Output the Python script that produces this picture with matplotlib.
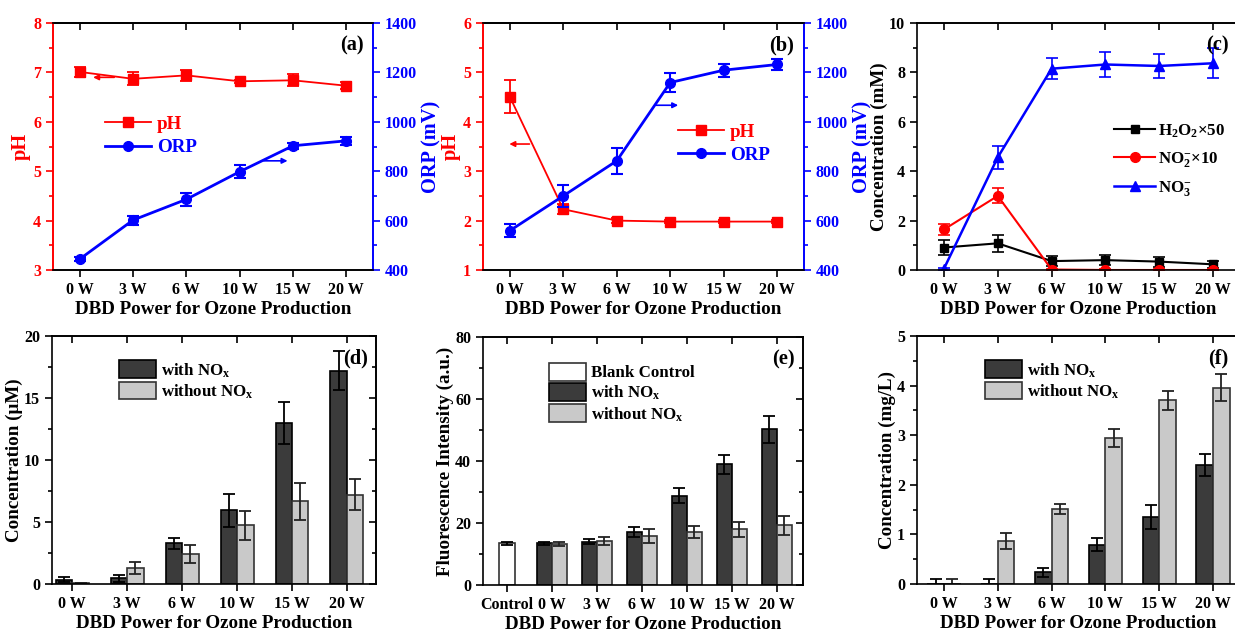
import numpy as np
import matplotlib
matplotlib.use('Agg')
import matplotlib.pyplot as plt
from matplotlib.patches import Patch
from matplotlib.lines import Line2D

plt.rcParams['font.family'] = ['Liberation Serif', 'DejaVu Serif']
plt.rcParams['font.weight'] = 'bold'
plt.rcParams['axes.labelweight'] = 'bold'
plt.rcParams['mathtext.fontset'] = 'custom'
plt.rcParams['mathtext.rm'] = 'Liberation Serif:bold'
plt.rcParams['mathtext.bf'] = 'Liberation Serif:bold'
plt.rcParams['mathtext.it'] = 'Liberation Serif:bold:italic'
plt.rcParams['mathtext.default'] = 'rm'
plt.rcParams['axes.linewidth'] = 1.2

# ---- data ----
powers = ['0 W', '3 W', '6 W', '10 W', '15 W', '20 W']

# (a)
ph_a = [7.01, 6.87, 6.94, 6.82, 6.84, 6.73]
ph_a_err = [0.10, 0.13, 0.11, 0.03, 0.12, 0.07]
orp_a = [444, 602, 686, 798, 903, 923]
orp_a_err = [8, 18, 27, 27, 13, 15]

# (b)
ph_b = [4.51, 2.23, 2.00, 1.98, 1.98, 1.98]
ph_b_err = [0.34, 0.10, 0.05, 0.03, 0.03, 0.03]
orp_b = [559, 700, 842, 1159, 1209, 1232]
orp_b_err = [26, 45, 52, 40, 27, 24]

# (c)
h2o2 = [0.91, 1.08, 0.36, 0.40, 0.34, 0.23]
h2o2_err = [0.30, 0.34, 0.20, 0.20, 0.20, 0.13]
no2 = [1.64, 3.00, 0.02, 0.0, 0.0, 0.0]
no2_err = [0.22, 0.30, 0.03, 0.03, 0.03, 0.03]
no3 = [0.05, 4.56, 8.15, 8.32, 8.26, 8.37]
no3_err = [0.05, 0.47, 0.43, 0.49, 0.50, 0.60]

# (d)
d_with = [0.35, 0.45, 3.30, 5.93, 12.97, 17.20]
d_with_err = [0.20, 0.30, 0.45, 1.33, 1.70, 1.58]
d_without = [0.08, 1.29, 2.42, 4.72, 6.66, 7.19]
d_without_err = [0.0, 0.50, 0.70, 1.17, 1.50, 1.25]

# (e)
e_control = 13.4
e_control_err = 0.4
e_with = [13.5, 14.0, 17.1, 28.8, 38.9, 50.2]
e_with_err = [0.5, 0.9, 1.7, 2.5, 3.1, 4.3]
e_without = [13.2, 14.3, 15.9, 17.2, 18.0, 19.2]
e_without_err = [0.6, 1.3, 2.2, 1.9, 2.4, 3.0]

# (f)
f_with = [0.0, 0.0, 0.24, 0.79, 1.35, 2.40]
f_with_err = [0.10, 0.10, 0.09, 0.13, 0.25, 0.22]
f_without = [0.0, 0.87, 1.51, 2.95, 3.70, 3.96]
f_without_err = [0.10, 0.16, 0.10, 0.18, 0.19, 0.27]

W, H = 1235, 632
fig = plt.figure(figsize=(W / 100, H / 100), dpi=100)


def pos(l, r, t, b):
    return [l / W, 1 - b / H, (r - l) / W, (b - t) / H]


TICK = 11.5
LAB = 13.7
DARK = '#3b3b3b'
LIGHT = '#c9c9c9'


def style(ax, xt, xl):
    ax.set_xticks(range(len(xl)))
    ax.set_xticklabels(xl, fontsize=TICK, fontweight='bold')
    ax.tick_params(axis='both', direction='out', length=5, width=1.2, labelsize=TICK)
    ax.tick_params(axis='y', which='minor', direction='out', length=3, width=1.2)
    ax.minorticks_on()
    ax.tick_params(axis='x', which='minor', bottom=False, top=False)
    for lab in ax.get_yticklabels():
        lab.set_fontweight('bold')
    top = ax.secondary_xaxis('top')
    top.set_xticks(range(len(xl)))
    top.set_xticklabels([])
    top.tick_params(direction='in', length=5, width=1.2)
    ax.set_xlabel('DBD Power for Ozone Production', fontsize=LAB, labelpad=2)


def mirror_right(ax, ticks, minor):
    r = ax.secondary_yaxis('right')
    r.set_yticks(ticks)
    r.set_yticklabels([])
    r.set_yticks(minor, minor=True)
    r.tick_params(direction='in', length=5, width=1.2)
    r.tick_params(which='minor', direction='in', length=3, width=1.2)


x = np.arange(6)

# ---------- (a) and (b) ----------
for key, rect, ph, phe, orp, orpe, ylim, arrows, leg_xy in [
    ('a', pos(53, 373, 23, 270), ph_a, ph_a_err, orp_a, orp_a_err, (3, 8),
     [((0.7, 6.9), (0.2, 6.9)), ((3.4, 842), (3.95, 842))], (0.14, 0.655)),
    ('b', pos(483, 804, 23, 270), ph_b, ph_b_err, orp_b, orp_b_err, (1, 6),
     [((0.42, 3.55), (-0.06, 3.55)), ((2.68, 1067), (3.2, 1067))], (0.585, 0.625)),
]:
    ax = fig.add_axes(rect)
    ax2 = ax.twinx()
    ax.errorbar(x, ph, yerr=phe, color='red', marker='s', ms=7, lw=1.3,
                capsize=4, elinewidth=1.3, capthick=1.3)
    ax2.errorbar(x, orp, yerr=orpe, color='blue', marker='o', ms=7, lw=2,
                 capsize=4, elinewidth=1.5, capthick=1.5)
    ax.set_xlim(-0.5, 5.5)
    ax.set_ylim(*ylim)
    ax2.set_ylim(400, 1400)
    style(ax, x, powers)
    ax.set_yticks(np.arange(ylim[0], ylim[1] + 1, 1))
    ax.set_yticks(np.arange(ylim[0], ylim[1], 0.5), minor=True)
    ax2.set_yticks(np.arange(400, 1401, 200))
    ax2.set_yticks(np.arange(400, 1400, 100), minor=True)
    ax2.tick_params(axis='y', direction='out', length=5, width=1.2, labelsize=TICK,
                    colors='blue')
    ax2.tick_params(axis='y', which='minor', direction='out', length=3, width=1.2,
                    colors='blue')
    for lab in ax2.get_yticklabels():
        lab.set_fontweight('bold')
    ax.tick_params(axis='y', which='both', colors='red')
    ax.spines['left'].set_color('red')
    ax2.spines['left'].set_color('red')
    ax2.spines['right'].set_color('blue')
    ax.spines['right'].set_color('blue')
    ax.set_ylabel('pH', fontsize=LAB + 1, color='red', labelpad=2)
    ax2.set_ylabel('ORP (mV)', fontsize=LAB + 1, color='blue', labelpad=3)
    (s1, e1), (s2, e2) = arrows
    ax.annotate('', xy=e1, xytext=s1,
                arrowprops=dict(arrowstyle='-|>', color='red', lw=1.2, mutation_scale=8))
    ax2.annotate('', xy=e2, xytext=s2,
                 arrowprops=dict(arrowstyle='-|>', color='blue', lw=1.2, mutation_scale=8))
    handles = [Line2D([], [], color='red', marker='s', ms=7, lw=1.3),
               Line2D([], [], color='blue', marker='o', ms=7, lw=2)]
    leg = ax.legend(handles, ['pH', 'ORP'], loc='upper left', bbox_to_anchor=leg_xy,
                    frameon=False, fontsize=LAB, handlelength=2.4, borderaxespad=0,
                    labelspacing=0.3, handletextpad=0.3)
    for t, c in zip(leg.get_texts(), ['red', 'blue']):
        t.set_color(c)
    ax.text(0.97, 0.95, '(%s)' % key, transform=ax.transAxes, ha='right', va='top',
            fontsize=LAB + 1, fontweight='bold')

# ---------- (c) ----------
ax = fig.add_axes(pos(917, 1240, 23, 270))
ax.errorbar(x, h2o2, yerr=h2o2_err, color='black', marker='s', ms=6, lw=1.5,
            capsize=4, elinewidth=1.2, capthick=1.2)
ax.errorbar(x, no2, yerr=no2_err, color='red', marker='o', ms=7, lw=1.5,
            capsize=4, elinewidth=1.2, capthick=1.2)
ax.errorbar(x, no3, yerr=no3_err, color='blue', marker='^', ms=7, lw=1.8,
            capsize=4, elinewidth=1.2, capthick=1.2)
ax.set_xlim(-0.5, 5.5)
ax.set_ylim(0, 10)
style(ax, x, powers)
ax.set_yticks(np.arange(0, 11, 2))
ax.set_yticks(np.arange(0, 10, 1), minor=True)
ax.set_ylabel('Concentration (mM)', fontsize=LAB, labelpad=1)
c_handles = [Line2D([], [], color='black', marker='s', ms=6, lw=1.5),
             Line2D([], [], color='red', marker='o', ms=7, lw=1.5),
             Line2D([], [], color='blue', marker='^', ms=7, lw=1.8)]
ax.legend(c_handles, ['H$_2$O$_2$×50', 'NO$_2^{-}$×10', 'NO$_3^{-}$'],
          loc='upper left', bbox_to_anchor=(0.59, 0.625), frameon=False, fontsize=LAB - 1.5,
          handlelength=2.4, borderaxespad=0, labelspacing=0.6, handletextpad=0.2)
ax.text(0.965, 0.95, '(c)', transform=ax.transAxes, ha='right', va='top',
        fontsize=LAB + 1, fontweight='bold')


def bars(ax, xs, with_v, with_e, wo_v, wo_e, w):
    ax.bar(xs - w / 2, with_v, w, color=DARK, edgecolor='black', lw=1.2,
           yerr=with_e, capsize=4, error_kw=dict(elinewidth=1.3, capthick=1.3, ecolor='black'))
    ax.bar(xs + w / 2, wo_v, w, color=LIGHT, edgecolor='#333333', lw=1.2,
           yerr=wo_e, capsize=4, error_kw=dict(elinewidth=1.3, capthick=1.3, ecolor='#222222'))


def bar_legend(ax, anchor, extra=None):
    handles = [Patch(facecolor=DARK, edgecolor='black', lw=1.2),
               Patch(facecolor=LIGHT, edgecolor='#333333', lw=1.2)]
    labels = ['with NO$_x$', 'without NO$_x$']
    if extra is not None:
        handles = [Patch(facecolor='white', edgecolor='#333333', lw=1.2)] + handles
        labels = ['Blank Control'] + labels
    ax.legend(handles, labels, loc='upper left', bbox_to_anchor=anchor, frameon=False,
              fontsize=LAB - 1.5, handlelength=2.2, handleheight=1.25, borderaxespad=0,
              labelspacing=0.12, handletextpad=0.3, borderpad=0.2)


# ---------- (d) ----------
ax = fig.add_axes(pos(52, 376, 336, 584))
bars(ax, x, d_with, d_with_err, d_without, d_without_err, 0.3)
ax.set_xlim(-0.37, 5.53)
ax.set_ylim(0, 20)
style(ax, x, powers)
ax.set_yticks(np.arange(0, 21, 5))
ax.set_yticks(np.arange(0, 20, 2.5), minor=True)
mirror_right(ax, np.arange(0, 21, 5), np.arange(0, 20, 2.5))
ax.set_ylabel('Concentration (μM)', fontsize=LAB, labelpad=1)
bar_legend(ax, (0.195, 0.915))
ax.text(0.975, 0.95, '(d)', transform=ax.transAxes, ha='right', va='top',
        fontsize=LAB + 1, fontweight='bold')

# ---------- (e) ----------
ax = fig.add_axes(pos(483, 803, 337, 585))
xe = np.arange(1, 7)
ax.bar([0], [e_control], 0.35, color='white', edgecolor='#333333', lw=1.2,
       yerr=[e_control_err], capsize=4,
       error_kw=dict(elinewidth=1.3, capthick=1.3, ecolor='black'))
bars(ax, xe, e_with, e_with_err, e_without, e_without_err, 0.33)
ax.set_xlim(-0.53, 6.58)
ax.set_ylim(0, 80)
style(ax, np.arange(7), ['Control'] + powers)
ax.set_yticks(np.arange(0, 81, 20))
ax.set_yticks(np.arange(0, 80, 10), minor=True)
mirror_right(ax, np.arange(0, 81, 20), np.arange(0, 80, 10))
ax.set_ylabel('Fluorescence Intensity (a.u.)', fontsize=LAB, labelpad=1)
bar_legend(ax, (0.195, 0.91), extra=True)
ax.text(0.975, 0.95, '(e)', transform=ax.transAxes, ha='right', va='top',
        fontsize=LAB + 1, fontweight='bold')

# ---------- (f) ----------
ax = fig.add_axes(pos(917, 1240, 336, 584))
bars(ax, x, f_with, f_with_err, f_without, f_without_err, 0.31)
ax.set_xlim(-0.5, 5.5)
ax.set_ylim(0, 5)
style(ax, x, powers)
ax.set_yticks(np.arange(0, 6, 1))
ax.set_yticks(np.arange(0, 5, 0.5), minor=True)
ax.set_ylabel('Concentration (mg/L)', fontsize=LAB, labelpad=1)
bar_legend(ax, (0.2, 0.915))
ax.text(0.965, 0.95, '(f)', transform=ax.transAxes, ha='right', va='top',
        fontsize=LAB + 1, fontweight='bold')

fig.savefig('out.png', dpi=100)
